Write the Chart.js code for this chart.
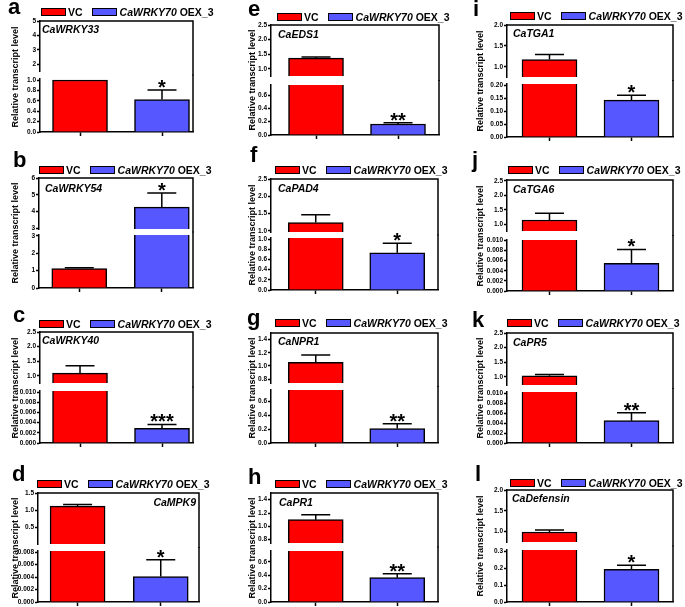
<!DOCTYPE html>
<html>
<head>
<meta charset="utf-8">
<script src="https://cdn.jsdelivr.net/npm/chart.js@4.4.1/dist/chart.umd.min.js"></script>
<style>
  body { margin: 0; background: #fff; }
  #fig { position: relative; width: 685px; height: 607px; overflow: hidden; font-family: Arial, 'Liberation Sans', sans-serif; color: #000; }
  #fig canvas { position: absolute; }
  .txt { position: absolute; white-space: nowrap; line-height: 1; font-weight: bold; }
  .legend { position: absolute; height: 12px; display: flex; align-items: center; font-weight: bold; font-size: 10.5px; white-space: nowrap; }
  .sw { box-sizing: border-box; width: 25px; height: 8px; border: 1.5px solid #000; }
  .ytitle { position: absolute; width: 150px; text-align: center; font-weight: bold; font-size: 9px; line-height: 10px; height: 10px; transform: rotate(-90deg); white-space: nowrap; }
</style>
</head>
<body>
<div id="fig"></div>
<script>
// ---- data ----
const letters = ['a', 'b', 'c', 'd', 'e', 'f', 'g', 'h', 'i', 'j', 'k', 'l'];
const genes = ['CaWRKY33', 'CaWRKY54', 'CaWRKY40', 'CaMPK9', 'CaEDS1', 'CaPAD4', 'CaNPR1', 'CaPR1', 'CaTGA1', 'CaTGA6', 'CaPR5', 'CaDefensin'];
const groups = ['VC', 'CaWRKY70 OEX_3'];
const vcMean = [1.0, 1.12, 1.09, 1.12, 1.37, 1.245, 1.055, 1.10, 1.176, 1.15, 1.035, 0.99];
const vcErr = [0, 0.04, 0.25, 0.05, 0.04, 0.225, 0.11, 0.075, 0.12, 0.23, 0.045, 0.05];
const oexMean = [0.625, 4.26, 0.00287, 0.00408, 0.165, 0.73, 0.21, 0.363, 0.142, 0.00546, 0.00447, 0.192];
const oexErr = [0.185, 0.85, 0.00076, 0.0027, 0.02, 0.185, 0.07, 0.057, 0.019, 0.00276, 0.00158, 0.024];
const marks = ['*', '*', '***', '*', '**', '*', '**', '**', '*', '*', '**', '*'];

// broken y axis: upper and lower segments
const upperRange = [[1.55, 5], [2.95, 6], [0.75, 2.5], [0.03, 1.5], [0.76, 2.5], [0.97, 2.5],
                    [0.74, 1.5], [0.75, 1.5], [0.76, 2.0], [0.77, 2.53], [0.72, 2.5], [0.75, 2.0]];
const lowerRange = [[0, 1.02], [0, 3.05], [0, 0.0102], [0, 0.0082], [0, 0.75], [0, 1.02],
                    [0, 0.77], [0, 0.76], [0, 0.204], [0, 0.0101], [0, 0.0102], [0, 0.306]];
const upperTicks = [
  ['2', '3', '4', '5'], ['3', '4', '5', '6'], ['1.0', '1.5', '2.0', '2.5'], ['0.5', '1.0', '1.5'],
  ['1.0', '1.5', '2.0', '2.5'], ['1.0', '1.5', '2.0', '2.5'], ['0.8', '1.0', '1.2', '1.4'], ['0.8', '1.0', '1.2', '1.4'],
  ['1.0', '1.5', '2.0'], ['1.0', '1.5', '2.0', '2.5'], ['1.0', '1.5', '2.0', '2.5'], ['1.0', '1.5', '2.0']
];
const lowerTicks = [
  ['0.0', '0.2', '0.4', '0.6', '0.8', '1.0'], ['0', '1', '2', '3'],
  ['0.000', '0.002', '0.004', '0.006', '0.008', '0.010'], ['0.000', '0.002', '0.004', '0.006', '0.008'],
  ['0.0', '0.2', '0.4', '0.6'], ['0.0', '0.2', '0.4', '0.6', '0.8', '1.0'],
  ['0.0', '0.2', '0.4', '0.6'], ['0.0', '0.2', '0.4', '0.6'],
  ['0.00', '0.05', '0.10', '0.15', '0.20'], ['0.000', '0.002', '0.004', '0.006', '0.008', '0.010'],
  ['0.000', '0.002', '0.004', '0.006', '0.008', '0.010'], ['0.0', '0.1', '0.2', '0.3']
];

// ---- layout (page pixels) ----
// plot box per panel: top, upper segment bottom, lower segment top, bottom
const boxes = [
  [21, 71, 79, 132], [178, 229, 235, 288], [332, 383, 391, 443], [493, 544, 551, 602],
  [25, 76, 85, 135], [179, 232, 238, 290], [333, 383, 390, 443], [493, 543, 551, 602],
  [25, 77, 84, 137], [180, 231, 240, 291], [333, 385, 392, 443], [490, 542, 550, 602]
];
// left, right, x-range per panel
const xBox = [
  [40, 193, 0.512, 2.378], [39, 193, 0.512, 2.378], [40, 193, 0.512, 2.378], [38, 199, 0.524, 2.46],
  [271, 439, 0.451, 2.5], [271, 438, 0.451, 2.5], [271, 438, 0.451, 2.5], [271, 438, 0.451, 2.5],
  [507, 673, 0.482, 2.506], [507, 673, 0.482, 2.506], [507, 673, 0.482, 2.506], [507, 673, 0.482, 2.506]
];
const letterPos = [[8, 15], [13, 168], [13, 323], [12, 482], [248, 17], [250, 163], [247, 326], [248, 485],
                   [473, 17], [472, 168], [472, 328], [475, 482]];
const legendPos = [[41, 12], [39, 170], [39, 324], [37, 484], [277, 17], [275, 170], [275, 323], [275, 484],
                   [510, 16], [508, 170], [507, 323], [510, 483]];
const genePos = [[42, 33], [45, 192], [42, 344], [196, 506], [278, 38], [278, 192], [278, 345], [279, 506],
                 [513, 37], [513, 193], [513, 346], [512, 502]];
const titleX = [15, 15, 15, 15, 252, 252, 252, 252, 480, 480, 480, 480];

const fig = document.getElementById('fig');
const FONT = "Arial, 'Liberation Sans', sans-serif";

function addText(html, x, baseline, size, extra) {
  const d = document.createElement('div');
  d.className = 'txt';
  d.innerHTML = html;
  d.style.fontSize = size + 'px';
  d.style.top = Math.round(baseline - 0.8465 * size) + 'px';
  if (extra === 'right') {
    d.style.right = (685 - x) + 'px';
  } else {
    d.style.left = x + 'px';
  }
  if (extra === 'italic' || extra === 'right') d.style.fontStyle = 'italic';
  fig.appendChild(d);
}

const errorBars = {
  id: 'errorBars',
  afterDatasetsDraw(chart, args, o) {
    const { ctx, chartArea: a } = chart;
    const ys = chart.scales.y;
    const bars = chart.getDatasetMeta(0).data;
    ctx.save();
    ctx.beginPath();
    ctx.rect(a.left, a.top - 1, a.right - a.left, a.bottom - a.top + 1);
    ctx.clip();
    ctx.strokeStyle = '#000';
    ctx.lineWidth = 1.5;
    bars.forEach((bar, i) => {
      const hi = o.means[i] + o.errors[i];
      if (!o.errors[i] || hi < ys.min) return;
      const y0 = ys.getPixelForValue(o.means[i]);
      const y1 = ys.getPixelForValue(hi);
      ctx.beginPath();
      ctx.moveTo(bar.x, y0);
      ctx.lineTo(bar.x, y1);
      ctx.moveTo(bar.x - 14.5, y1);
      ctx.lineTo(bar.x + 14.5, y1);
      ctx.stroke();
    });
    ctx.restore();
    // significance mark over the OEX bar
    const top = o.means[1] + o.errors[1];
    if (top >= ys.min && top <= ys.max) {
      ctx.save();
      ctx.fillStyle = '#000';
      ctx.font = 'bold 20px ' + FONT;
      ctx.textAlign = 'center';
      ctx.textBaseline = 'alphabetic';
      ctx.fillText(o.mark, bars[1].x, ys.getPixelForValue(top) + 4);
      ctx.restore();
    }
  }
};

const frame = {
  id: 'frame',
  afterDraw(chart, args, o) {
    const { ctx, chartArea: a } = chart;
    ctx.save();
    ctx.strokeStyle = '#000';
    ctx.lineWidth = 1.5;
    ctx.beginPath();
    if (o.upper) {
      ctx.moveTo(a.left - 0.75, a.top);
      ctx.lineTo(a.right, a.top);
      ctx.lineTo(a.right, a.bottom + o.ext);
    } else {
      ctx.moveTo(a.right, a.top - o.ext);
      ctx.lineTo(a.right, a.bottom);
    }
    ctx.stroke();
    ctx.restore();
  }
};

function makeSegment(p, upper) {
  const [top, upBottom, lowTop, bottom] = boxes[p];
  const [left, right, xMin, xMax] = xBox[p];
  const segTop = upper ? top : lowTop;
  const segBottom = upper ? upBottom : bottom;
  const gapHalf = (lowTop - upBottom) / 2;
  const YW = 30, PT = 8, PR = 4, PB = upper ? 8 : 4, XH = upper ? 0 : 6;
  const canvas = document.createElement('canvas');
  canvas.width = (right - left) + YW + PR;
  canvas.height = (segBottom - segTop) + PT + PB + XH;
  canvas.style.left = (left - YW) + 'px';
  canvas.style.top = (segTop - PT) + 'px';
  fig.appendChild(canvas);

  const range = upper ? upperRange[p] : lowerRange[p];
  const tickLabels = upper ? upperTicks[p] : lowerTicks[p];

  new Chart(canvas, {
    type: 'bar',
    data: {
      datasets: [{
        label: groups.join(' / '),
        data: [{ x: 1, y: vcMean[p] }, { x: 2, y: oexMean[p] }],
        backgroundColor: ['#ff0000', '#5757ff'],
        borderColor: '#000',
        borderWidth: 1.5,
        barThickness: 55,
        clip: 0
      }]
    },
    options: {
      responsive: false,
      animation: false,
      events: [],
      layout: { padding: { left: 0, top: PT, right: PR, bottom: PB } },
      scales: {
        x: {
          type: 'linear',
          display: !upper,
          offset: false,
          min: xMin,
          max: xMax,
          afterBuildTicks: s => { s.ticks = [{ value: 1 }, { value: 2 }]; },
          afterFit: s => { s.height = XH; },
          ticks: { display: false, autoSkip: false },
          grid: { drawOnChartArea: false, drawTicks: true, tickLength: 4, tickColor: '#000', tickWidth: 1.5, offset: false },
          border: { display: true, color: '#000', width: 1.5 }
        },
        y: {
          min: range[0],
          max: range[1],
          afterBuildTicks: s => { s.ticks = tickLabels.map(t => ({ value: parseFloat(t) })); },
          afterFit: s => { s.width = YW; },
          ticks: {
            autoSkip: false,
            callback: (v, i) => tickLabels[i],
            color: '#000',
            padding: 1,
            font: { family: FONT, size: 6.5, weight: 'bold' }
          },
          grid: { drawOnChartArea: false, drawTicks: true, tickLength: 3, tickColor: '#000', tickWidth: 1.5 },
          border: { display: true, color: '#000', width: 1.5 }
        }
      },
      plugins: {
        legend: { display: false },
        tooltip: { enabled: false },
        errorBars: { means: [vcMean[p], oexMean[p]], errors: [vcErr[p], oexErr[p]], mark: marks[p] },
        frame: { upper: upper, ext: gapHalf + 0.5 }
      }
    },
    plugins: [errorBars, frame]
  });
}

for (let p = 0; p < letters.length; p++) {
  const [top, , , bottom] = boxes[p];

  makeSegment(p, true);
  makeSegment(p, false);

  addText(letters[p], letterPos[p][0], letterPos[p][1], 22);

  const lg = document.createElement('div');
  lg.className = 'legend';
  lg.style.left = legendPos[p][0] + 'px';
  lg.style.top = (legendPos[p][1] - 6) + 'px';
  lg.innerHTML =
    '<span class="sw" style="background:#ff0000"></span>' +
    '<span style="margin-left:2px">' + groups[0] + '</span>' +
    '<span class="sw" style="background:#5757ff;margin-left:9px"></span>' +
    '<span style="margin-left:3px"><i>CaWRKY70</i> OEX_3</span>';
  fig.appendChild(lg);

  if (p === 3) {
    addText(genes[p], genePos[p][0], genePos[p][1], 10.5, 'right');
  } else {
    addText(genes[p], genePos[p][0], genePos[p][1], 10.5, 'italic');
  }

  const t = document.createElement('div');
  t.className = 'ytitle';
  t.textContent = 'Relative transcript level';
  t.style.left = (titleX[p] - 75) + 'px';
  t.style.top = Math.round((top + bottom) / 2 - 5) + 'px';
  fig.appendChild(t);
}
</script>
</body>
</html>
